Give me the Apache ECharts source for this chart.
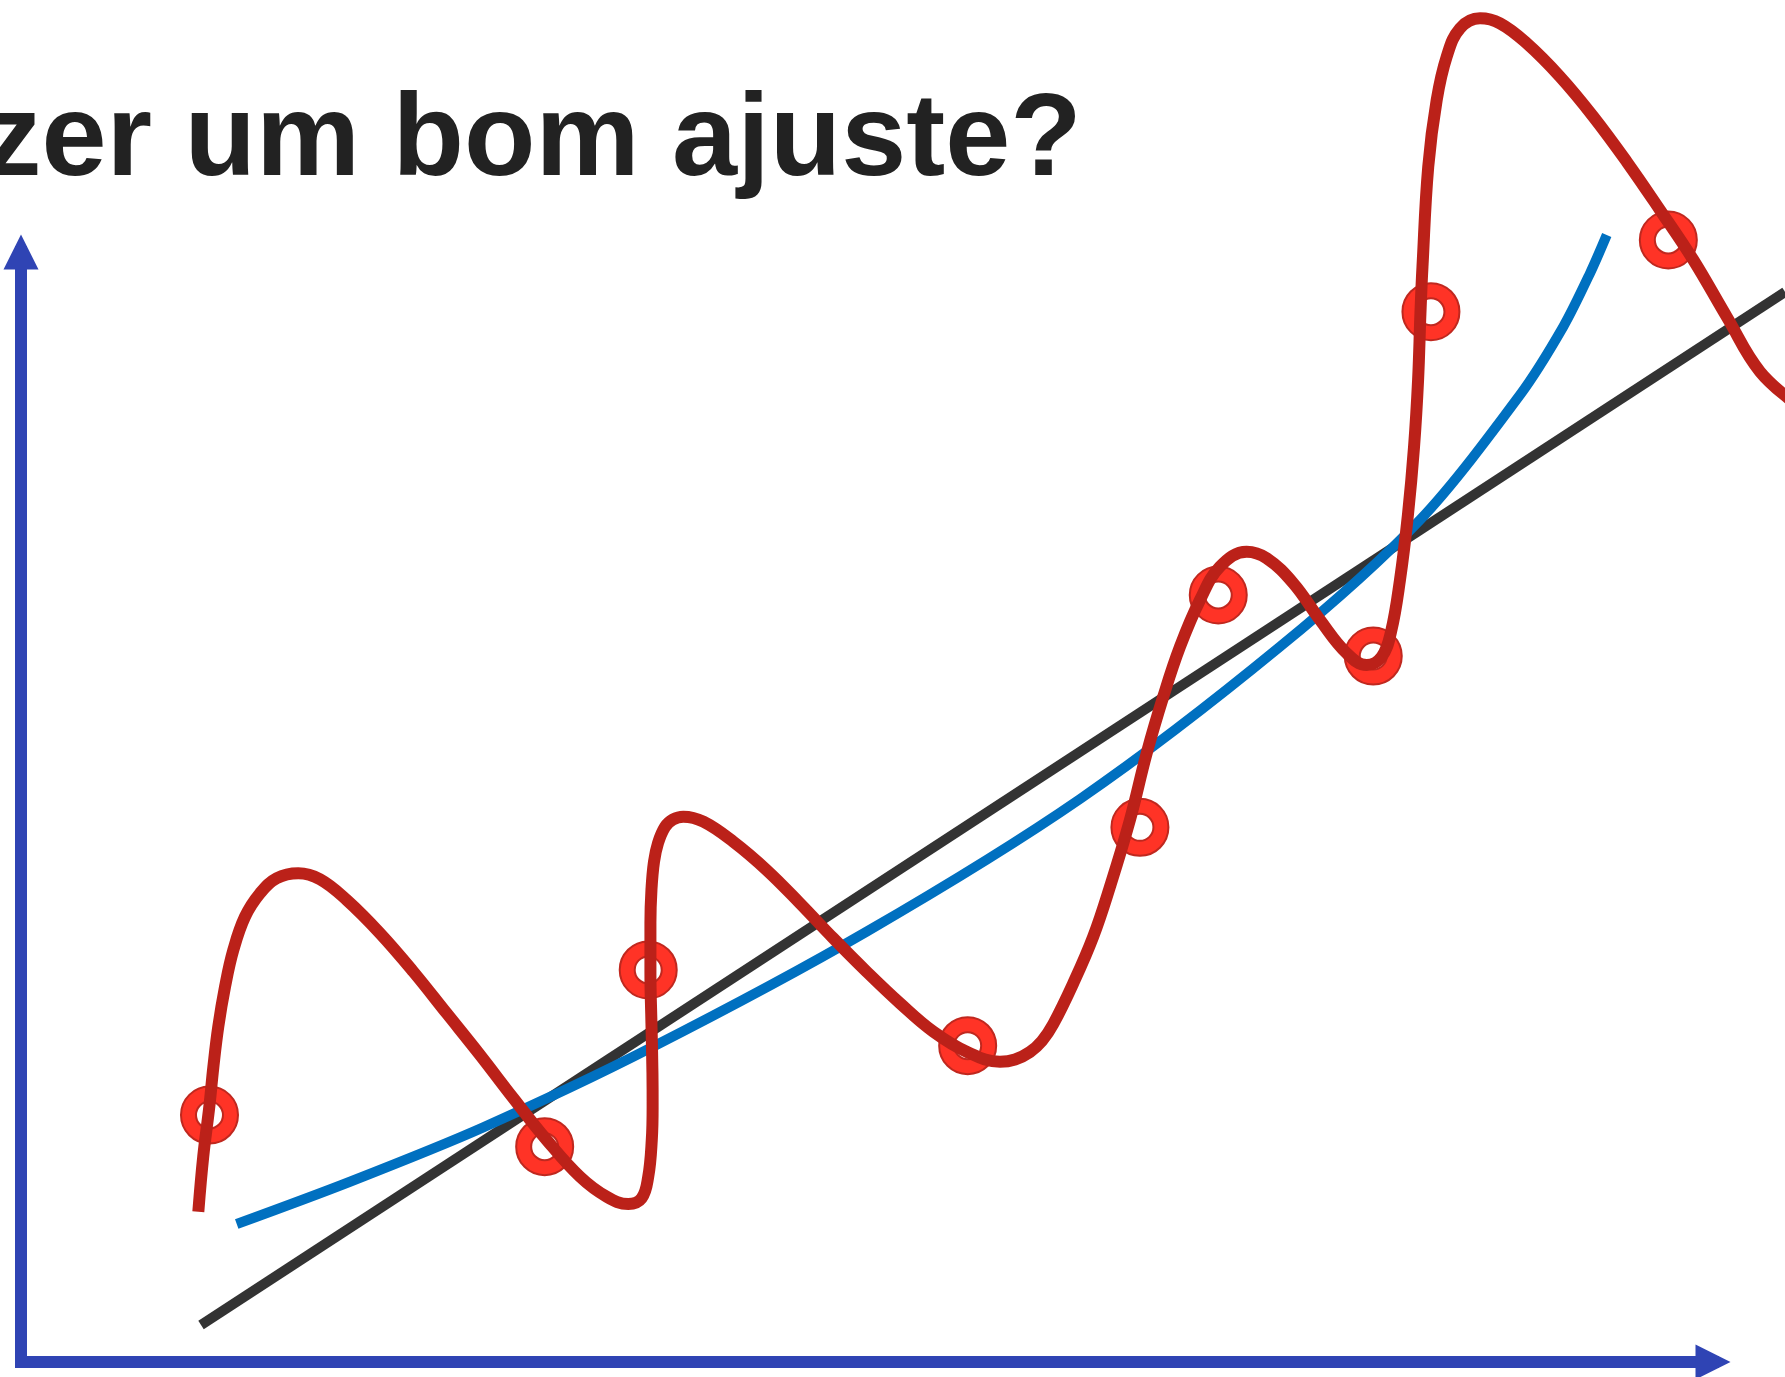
<!DOCTYPE html>
<html>
<head>
<meta charset="utf-8">
<script src="https://cdn.jsdelivr.net/npm/echarts@6/dist/echarts.min.js"></script>
<style>
html,body{margin:0;padding:0;background:#fff;}
#chart{width:1785px;height:1377px;}
</style>
</head>
<body>
<div id="chart"></div>
<script>
// Title text (left part is cut off in the original)
var titleText = 'zer um bom ajuste?';

// Observed data points (ring markers)
var pointX = [11.14, 30.95, 37.07, 55.95, 66.13, 70.76, 79.92, 83.33, 97.36];
var pointY = [22.25, 19.40, 35.32, 28.50, 48.17, 69.10, 63.60, 94.62, 101.08];

// Over-fitted high degree curve (red)
var redX = [10.48, 10.77, 11.13, 11.37, 11.66, 12.06, 12.55, 13.24, 14.13, 15.11, 16.39, 17.67, 19.25, 21.22, 23.19, 25.16, 27.13, 29.10, 31.07, 33.04, 34.62, 35.89, 36.68, 37.07, 37.28, 37.33, 37.32, 37.26, 37.20, 37.20, 37.26, 37.41, 37.65, 38.06, 38.53, 39.14, 40.33, 42.10, 44.07, 46.04, 48.01, 49.98, 51.95, 53.92, 55.89, 57.86, 58.75, 59.63, 60.34, 61.01, 62.19, 63.37, 64.36, 65.54, 66.53, 67.51, 68.50, 69.68, 70.86, 72.44, 73.62, 75.20, 76.77, 78.35, 79.53, 80.42, 80.97, 81.50, 81.97, 82.33, 82.57, 82.71, 82.83, 83.17, 83.67, 84.26, 85.05, 86.23, 87.41, 88.99, 90.96, 92.93, 94.90, 96.87, 98.84, 100.81, 102.78, 105.0];
var redY = [13.54, 18.50, 23.00, 26.60, 30.21, 33.81, 37.12, 40.12, 42.23, 43.58, 44.03, 43.49, 41.62, 38.62, 35.16, 31.41, 27.66, 23.76, 20.00, 16.69, 14.89, 14.23, 14.75, 16.69, 20.00, 23.00, 26.04, 30.54, 35.05, 39.55, 42.52, 45.05, 46.76, 48.20, 48.87, 49.13, 48.68, 46.87, 44.32, 41.32, 38.17, 35.16, 32.32, 29.76, 27.95, 27.05, 27.25, 27.93, 28.92, 30.45, 34.12, 38.32, 42.82, 48.83, 54.84, 59.94, 64.44, 68.65, 71.65, 73.00, 72.41, 70.15, 66.85, 63.85, 62.79, 63.54, 65.77, 70.45, 76.31, 82.43, 88.47, 94.50, 98.68, 107.68, 113.69, 117.59, 120.15, 121.05, 120.60, 118.80, 115.79, 112.19, 108.14, 103.78, 99.28, 94.17, 89.22, 86.20];

// Moderate fit (blue)
var blueX = [12.75, 19.44, 27.32, 37.17, 49.98, 62.59, 74.41, 82.68, 88.59, 91.15, 92.73, 93.72];
var blueY = [12.43, 16.24, 21.14, 28.26, 38.77, 50.72, 64.44, 75.86, 87.12, 93.27, 98.08, 101.53];

// Linear fit (dark)
var blackX = [10.64, 104.26];
var blackY = [3.33, 96.40];

function zip(xs, ys) { return xs.map(function (x, i) { return [x, ys[i]]; }); }

var W = 1785, H = 1377;
var gLeft = 21, gRight = 72, gTop = 252, gBottom = 15;
var axisMax = 100;
// drawing grid shares the same scale as the axis grid but reaches the right edge of the page
var drawXMax = axisMax * (W - gLeft) / (W - gLeft - gRight);

var axisColor = '#2f44b4';
var chart = echarts.init(document.getElementById('chart'), null, {renderer: 'canvas'});
chart.setOption({
  animation: false,
  backgroundColor: '#ffffff',
  title: {
    text: titleText,
    left: -17,
    top: 84,
    padding: 0,
    textStyle: {
      fontFamily: '"Liberation Sans", Arial, sans-serif',
      fontWeight: 'bold',
      fontSize: 117,
      lineHeight: 117,
      color: '#222222'
    }
  },
  grid: [
    {left: gLeft, right: gRight, top: gTop, bottom: gBottom, containLabel: false},
    {left: gLeft, right: 0, top: gTop, bottom: gBottom, containLabel: false}
  ],
  xAxis: [{
    type: 'value', min: 0, max: axisMax, gridIndex: 0,
    axisLine: {show: true, onZero: false, symbol: ['none', 'triangle'], symbolSize: [35, 35],
      lineStyle: {color: axisColor, width: 12, cap: 'square'}},
    axisTick: {show: false}, axisLabel: {show: false}, splitLine: {show: false}
  }, {
    type: 'value', min: 0, max: drawXMax, gridIndex: 1, show: false
  }],
  yAxis: [{
    type: 'value', min: 0, max: axisMax, gridIndex: 0,
    axisLine: {show: true, onZero: false, symbol: ['none', 'triangle'], symbolSize: [35, 35],
      lineStyle: {color: axisColor, width: 12, cap: 'square'}},
    axisTick: {show: false}, axisLabel: {show: false}, splitLine: {show: false}
  }, {
    type: 'value', min: 0, max: axisMax, gridIndex: 1, show: false
  }],
  series: [
    {
      name: 'linear', type: 'line', data: zip(blackX, blackY), z: 2,
      xAxisIndex: 1, yAxisIndex: 1,
      showSymbol: false, clip: false,
      lineStyle: {color: '#333333', width: 10}
    },
    {
      name: 'moderate', type: 'line', data: zip(blueX, blueY), z: 3,
      xAxisIndex: 1, yAxisIndex: 1,
      showSymbol: false, clip: false, smooth: 0.3,
      lineStyle: {color: '#0070c0', width: 10}
    },
    {
      name: 'pointsOuter', type: 'scatter', data: zip(pointX, pointY), z: 4,
      xAxisIndex: 1, yAxisIndex: 1,
      symbol: 'circle', symbolSize: 57, clip: false,
      itemStyle: {color: '#ff3326', borderColor: '#c0281f', borderWidth: 2, opacity: 1}
    },
    {
      name: 'pointsInner', type: 'scatter', data: zip(pointX, pointY), z: 5,
      xAxisIndex: 1, yAxisIndex: 1,
      symbol: 'circle', symbolSize: 27, clip: false,
      itemStyle: {color: '#ffffff', borderColor: '#c0281f', borderWidth: 2, opacity: 1}
    },
    {
      name: 'overfit', type: 'line', data: zip(redX, redY), z: 6,
      xAxisIndex: 1, yAxisIndex: 1,
      showSymbol: false, clip: false, smooth: 0.4,
      lineStyle: {color: '#bb2119', width: 12}
    }
  ]
});
</script>
</body>
</html>
